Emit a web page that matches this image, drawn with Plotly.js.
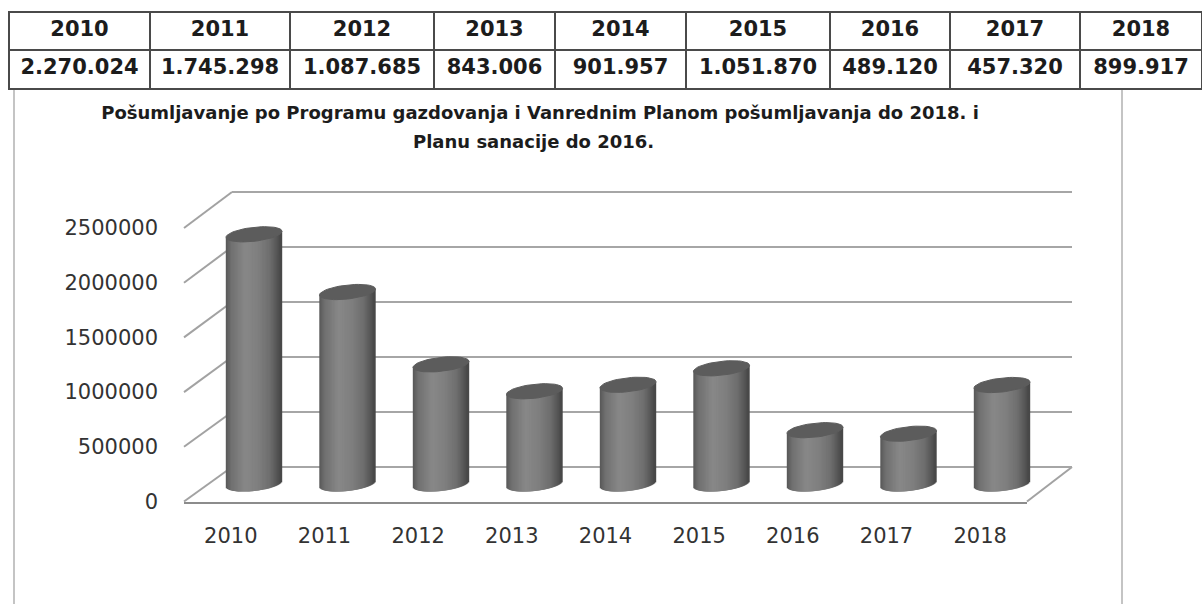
<!DOCTYPE html>
<html><head><meta charset="utf-8">
<script src="https://cdn.plot.ly/plotly-3.0.1.min.js"></script>
<style>html,body{margin:0;padding:0;background:#fff;overflow:hidden}</style>
</head><body><div id="chart" style="width:1202px;height:604px"></div>
<script>
const years = [2010,2011,2012,2013,2014,2015,2016,2017,2018];
const values = [2270024,1745298,1087685,843006,901957,1051870,489120,457320,899917];
const valueLabels = ['2.270.024','1.745.298','1.087.685','843.006','901.957','1.051.870','489.120','457.320','899.917'];
const yTicks = [0,500000,1000000,1500000,2000000,2500000];
const titleLine1 = 'Pošumljavanje po Programu gazdovanja i Vanrednim Planom pošumljavanja do 2018. i';
const titleLine2 = 'Planu sanacije do 2016.';
const tableColumnWidths = [141,140,144,121,131,144,120,130,122];

const W = 1202, H = 604, YMAX = 2500000;
const planes = {
  back:  {x0:232, x1:1072, y0:467,   y1:192},
  mid:   {x0:207.25, x1:1048.75, y0:484, y1:209},
  front: {x0:184, x1:1027, y0:501.5, y1:228}
};
const domX = p => [p.x0/W, p.x1/W];
const domY = p => [1-p.y0/H, 1-p.y1/H];
const py = (p,v) => 1-(p.y0+(p.y1-p.y0)*v/YMAX)/H;

// cylinder geometry, in data units, applied to the values
const pxUnit = YMAX/(planes.mid.y0-planes.mid.y1);
const RY = 7*pxUnit, TILT = 3*pxUnit, BAR_W = 0.6, N = 56, BELOW = 30, GRIDPAD = 3;
const stops = [[-1,88],[-0.8,112],[-0.3,136],[0.2,126],[0.6,110],[0.9,82],[1,70]];
function shade(u){
  for(let i=1;i<stops.length;i++){
    if(u<=stops[i][0]){
      const a=stops[i-1],b=stops[i],t=(u-a[0])/(b[0]-a[0]);
      const g=Math.round(a[1]+(b[1]-a[1])*t);
      return `rgb(${g},${g},${g})`;
    }
  }
  return 'rgb(70,70,70)';
}
const bodyX=[],bodyBase=[],bodyH=[],bodyC=[],capX=[],capY=[];
years.forEach((yr,i)=>{
  for(let k=0;k<N;k++){
    const u=-1+(2*k+1)/N, s=Math.sqrt(1-u*u);
    const bottom=-RY*s+TILT*u, topMid=values[i]+TILT*u;
    bodyX.push(yr+u*BAR_W/2*0.98); bodyBase.push(bottom); bodyH.push(topMid-bottom); bodyC.push(shade(u));
  }
  for(let a=0;a<=48;a++){
    const th=a/48*2*Math.PI, u=Math.cos(th);
    capX.push(yr+u*BAR_W/2); capY.push(values[i]+TILT*u+RY*Math.sin(th));
  }
  capX.push(null); capY.push(null);
});
const sliceW = BAR_W/N*2.4;

const traces = [
  {type:'scatter',mode:'none',x:[0,1],y:[0,YMAX],showlegend:false},
  {type:'bar',name:'core',xaxis:'x2',yaxis:'y2',x:years,y:values,width:0.5,marker:{color:'#808080'},showlegend:false},
  {type:'bar',name:'body',xaxis:'x2',yaxis:'y2',x:bodyX,y:bodyH,base:bodyBase,width:sliceW,marker:{color:bodyC,line:{width:0}},showlegend:false},
  {type:'scatter',name:'cap',mode:'lines',xaxis:'x2',yaxis:'y2',x:capX,y:capY,fill:'toself',fillcolor:'#5c5c5c',line:{color:'#5c5c5c',width:1},showlegend:false},
  {type:'scatter',mode:'none',xaxis:'x3',yaxis:'y3',x:years.map(String),y:values,showlegend:false},
  {type:'table',domain:{x:[9/W,1],y:[1-91/H,1-12/H]},columnwidth:tableColumnWidths,
   header:{values:years.map(String),height:38,align:'center',fill:{color:'#fff'},line:{color:'#4a4a4a',width:2},
     font:{family:'DejaVu Sans',size:21,color:'#1c1c1c',weight:700}},
   cells:{values:valueLabels.map(v=>[v]),height:39,align:'center',fill:{color:'#fff'},line:{color:'#4a4a4a',width:2},
     font:{family:'DejaVu Sans',size:21,color:'#1c1c1c',weight:700}}}
];

const diag = (a,b,ya,yb) => ({type:'line',xref:'paper',yref:'paper',x0:a/W,x1:b/W,y0:ya,y1:yb,layer:'below',line:{color:'#a2a2a2',width:2}});
const shapes = yTicks.map(v=>diag(planes.front.x0,planes.back.x0,py(planes.front,v),py(planes.back,v)));
shapes.push(diag(planes.front.x1,planes.back.x1,py(planes.front,0),py(planes.back,0)));
[14,1122].forEach(x=>shapes.push({type:'line',xref:'paper',yref:'paper',x0:x/W,x1:x/W,y0:0,y1:1-89/H,layer:'below',line:{color:'#c4c4c4',width:2}}));

const backUnit = YMAX/(planes.back.y0-planes.back.y1);
const titleFont = {family:'DejaVu Sans',size:18,color:'#1c1c1c',weight:700};
const layout = {
  width:W,height:H,margin:{l:0,r:0,t:0,b:0},paper_bgcolor:'#fff',plot_bgcolor:'rgba(0,0,0,0)',
  showlegend:false,barmode:'overlay',hovermode:false,shapes,
  title:{text:titleLine1,x:540/W,xanchor:'center',xref:'paper',y:1-113/H,yanchor:'middle',yref:'paper',font:titleFont},
  annotations:[{text:titleLine2,xref:'paper',yref:'paper',x:533/W,y:1-141/H,xanchor:'center',yanchor:'middle',showarrow:false,font:titleFont}],
  font:{family:'DejaVu Sans',color:'#333'},
  xaxis:{domain:domX(planes.back),range:[0,1],showgrid:false,zeroline:false,showticklabels:false,ticks:''},
  yaxis:{domain:[1-(planes.back.y0+GRIDPAD)/H,1-(planes.back.y1-GRIDPAD)/H],range:[-GRIDPAD*backUnit,YMAX+GRIDPAD*backUnit],tickvals:yTicks,showgrid:true,gridcolor:'#a6a6a6',gridwidth:2,zeroline:false,showticklabels:false,ticks:''},
  xaxis2:{domain:domX(planes.mid),range:[years[0]-0.5,years[years.length-1]+0.5],anchor:'y2',visible:false},
  yaxis2:{domain:[1-(planes.mid.y0+BELOW)/H,1-planes.mid.y1/H],range:[-BELOW*pxUnit,YMAX],anchor:'x2',visible:false},
  xaxis3:{domain:domX(planes.front),anchor:'y3',type:'category',categoryorder:'array',categoryarray:years.map(String),tickvals:years.map(String),range:[-0.5,8.5],
    showline:true,linecolor:'#8c8c8c',linewidth:2,showgrid:false,zeroline:false,ticks:'',ticklabelstandoff:14,
    tickfont:{family:'DejaVu Sans',size:21,color:'#333'}},
  yaxis3:{domain:domY(planes.front),range:[0,YMAX],anchor:'x3',tickvals:yTicks,tickformat:'d',showgrid:false,zeroline:false,showline:false,ticks:'',
    ticklabelstandoff:25,tickfont:{family:'DejaVu Sans',size:21,color:'#333'}}
};
Plotly.newPlot('chart',traces,layout,{staticPlot:true,displayModeBar:false});
</script></body></html>
